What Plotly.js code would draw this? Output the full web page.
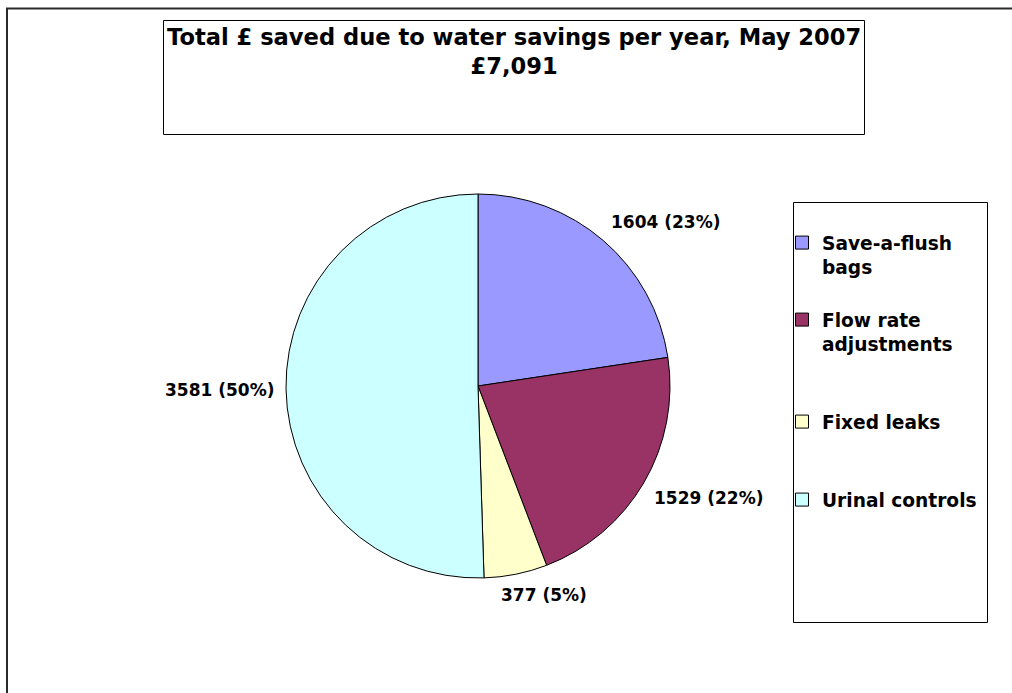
<!DOCTYPE html>
<html>
<head>
<meta charset="utf-8">
<script src="https://cdn.plot.ly/plotly-3.0.1.min.js"></script>
<style>
  html, body { margin: 0; padding: 0; background: #fff; }
  #chart { width: 1012px; height: 693px; }
</style>
</head>
<body>
<div id="chart"></div>
<script>
// ---- data ----
var categories = ['Save-a-flush bags', 'Flow rate adjustments', 'Fixed leaks', 'Urinal controls'];
var legendLabels = ['Save-a-flush<br>bags', 'Flow rate<br>adjustments', 'Fixed leaks', 'Urinal controls'];
var savings = [1604, 1529, 377, 3580.6];
var colors = ['#9999FF', '#993366', '#FFFFCC', '#CCFFFF'];
var titleLines = ['Total £ saved due to water savings per year, May 2007', '£7,091'];

// ---- layout helpers (pixels -> paper) ----
var W = 1012, H = 693;
function px(x) { return x / W; }
function py(y) { return 1 - y / H; }
function clamp(v) { return Math.max(-1, Math.min(1, v)); }

var FONT = 'DejaVu Sans, Verdana, sans-serif';
var LABEL_SIZE = 17;

var pieCx = 478, pieCy = 386, pieR = 192;

var traces = [{
  type: 'pie',
  labels: categories,
  values: savings,
  sort: false,
  direction: 'clockwise',
  rotation: 0,
  marker: { colors: colors, line: { color: '#000000', width: 1 } },
  textinfo: 'none',
  domain: { x: [px(pieCx - pieR), px(pieCx + pieR)], y: [py(pieCy + pieR), py(pieCy - pieR)] },
  showlegend: false,
  hoverinfo: 'none'
}];

// data labels placed just outside each slice, at the slice's mid angle
var canvas = document.createElement('canvas');
var ctx = canvas.getContext('2d');
ctx.font = 'bold ' + LABEL_SIZE + 'px "DejaVu Sans"';
var total = savings.reduce(function (a, b) { return a + b; }, 0);
var labelAnnotations = [];
var cum = 0;
for (var k = 0; k < savings.length; k++) {
  var frac = savings[k] / total;
  var mid = (cum + frac / 2) * 2 * Math.PI;
  cum += frac;
  var dx = Math.sin(mid), dy = -Math.cos(mid);
  var txt = Math.round(savings[k]) + ' (' + Math.round(frac * 100) + '%)';
  var hw = ctx.measureText(txt).width / 2, hh = 9;
  var cx = pieCx + (pieR + 12) * dx + hw * clamp(dx * 3);
  var cy = pieCy + (pieR + 12) * dy + hh * clamp(dy * 3);
  labelAnnotations.push({
    text: txt,
    font: { family: FONT, size: LABEL_SIZE, color: '#000000', weight: 'bold' },
    xref: 'paper', yref: 'paper',
    x: px(cx), y: py(cy), xanchor: 'center', yanchor: 'middle',
    showarrow: false
  });
}

var legendY = [224, 301, 403, 481];
var layout = {
  width: W, height: H,
  margin: { l: 0, r: 0, t: 0, b: 0 },
  paper_bgcolor: '#ffffff',
  plot_bgcolor: 'rgba(0,0,0,0)',
  xaxis: { visible: false, domain: [0, 0.01] },
  yaxis: { visible: false, domain: [0, 0.01] },
  annotations: [{
    text: titleLines.join('<br>'),
    font: { family: FONT, size: 22.6, color: '#000000', weight: 'bold' },
    xref: 'paper', yref: 'paper',
    x: px(513.5), xanchor: 'center',
    y: py(52), yanchor: 'middle',
    showarrow: false, align: 'center'
  }].concat(labelAnnotations),
  shapes: [
    { type: 'rect', xref: 'paper', yref: 'paper', x0: px(7), x1: 1.05, y0: py(8.5), y1: -0.05,
      line: { color: '#2a2a2a', width: 2 }, fillcolor: 'rgba(0,0,0,0)', layer: 'below' },
    { type: 'rect', xref: 'paper', yref: 'paper', x0: px(163.5), x1: px(864.5), y0: py(20.5), y1: py(134.5),
      line: { color: '#000000', width: 1 }, fillcolor: 'rgba(0,0,0,0)', layer: 'below' },
    { type: 'rect', xref: 'paper', yref: 'paper', x0: px(793.5), x1: px(987.5), y0: py(202.5), y1: py(622.5),
      line: { color: '#000000', width: 1 }, fillcolor: 'rgba(0,0,0,0)', layer: 'below' }
  ]
};

var legendNames = ['legend', 'legend2', 'legend3', 'legend4'];
for (var i = 0; i < categories.length; i++) {
  traces.push({
    type: 'scatter', mode: 'markers',
    x: [null], y: [null],
    name: legendLabels[i],
    marker: { symbol: 'square', size: 13, color: colors[i], line: { color: '#000000', width: 1 } },
    legend: legendNames[i],
    showlegend: true,
    hoverinfo: 'none'
  });
  layout[legendNames[i]] = {
    x: px(782), xanchor: 'left',
    y: py(legendY[i]), yanchor: 'top',
    bgcolor: 'rgba(0,0,0,0)', borderwidth: 0,
    valign: 'top',
    font: { family: FONT, size: 18.6, color: '#000000', weight: 'bold' }
  };
}

Plotly.newPlot('chart', traces, layout, { staticPlot: true, displayModeBar: false });
</script>
</body>
</html>
